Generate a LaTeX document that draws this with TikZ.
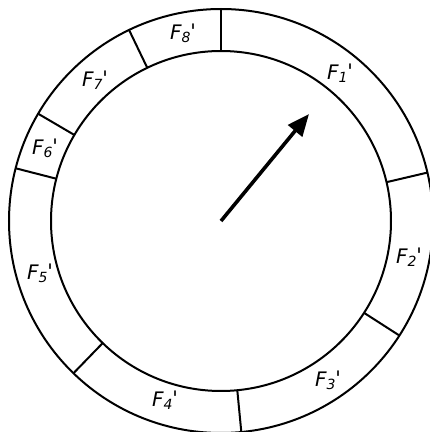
\documentclass[tikz,border=0pt]{standalone}
\usepackage{fontspec}
\setmainfont{DejaVu Sans}
\usetikzlibrary{arrows.meta,calc}
\newcommand{\flab}[1]{\itshape F\raisebox{-0.3ex}{\fontsize{14}{16}\selectfont #1}\upshape\raisebox{0.1ex}{\textquotesingle}}
\begin{document}
\begin{tikzpicture}[x=1pt,y=1pt,
  ring/.style={line width=2pt},
  divider/.style={line width=2pt},
  flabel/.style={font=\fontsize{20}{24}\selectfont, inner sep=0pt},
  pointer/.style={line width=3.6pt, -{Triangle[length=22pt,width=18pt]}}]
\clip (0,0) rectangle (430,432);
\useasboundingbox (0,0) rectangle (430,432);
\fill[white] (0,0) rectangle (430,432);
\coordinate (c) at (221,211);
\draw[ring] (c) circle[radius=170];
\draw[ring] (c) circle[radius=212];
\foreach \a/\n in {90/a,115.7/b,149.6/c,165.6/d,225.9/e,275.5/f,327.3/g,13.2/h}{
  \coordinate (in\n) at ($(c)+(\a:170)$);
  \coordinate (out\n) at ($(c)+(\a:212)$);
  \draw[divider] (in\n) -- (out\n);
}
\node[flabel] (l1) at (340,359) {\flab{1}};
\node[flabel] (l2) at (409,175) {\flab{2}};
\node[flabel] (l3) at (328,52) {\flab{3}};
\node[flabel] (l4) at (165,32) {\flab{4}};
\node[flabel] (l5) at (40,159) {\flab{5}};
\node[flabel] (l6) at (45,284) {\flab{6}};
\node[flabel] (l7) at (95,352) {\flab{7}};
\node[flabel] (l8) at (183,399) {\flab{8}};
\coordinate (tip) at (309,318);
\draw[pointer] (c) -- (tip);
\end{tikzpicture}
\end{document}
